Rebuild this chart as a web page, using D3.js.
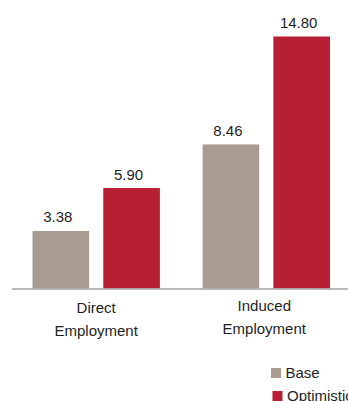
<!DOCTYPE html>
<html>
<head>
<meta charset="utf-8">
<script src="https://cdn.jsdelivr.net/npm/d3@7"></script>
<style>
  body { margin: 0; background: #fff; overflow: hidden; }
  text { font-family: "Liberation Sans", Arial, Helvetica, sans-serif; fill: #1e1e1e; }
</style>
</head>
<body>
<div id="chart"></div>
<script>
// data
var categories = ["Direct Employment", "Induced Employment"];
var catLines = [["Direct", "Employment"], ["Induced", "Employment"]];
var series = ["Base", "Optimistic"];
var baseValues = [3.38, 8.46];
var optimisticValues = [5.90, 14.80];
var colors = ["#a89b91", "#b71f34"];

var width = 348, height = 401;
var baseline = 288.5, plotTop = 36.5;

var svg = d3.select("#chart")
  .append("svg")
    .attr("width", width)
    .attr("height", height);

// group scale, then bar-in-group scale
var x0 = d3.scaleBand()
  .domain(categories)
  .range([32.5, 330])
  .paddingInner(0.251)
  .paddingOuter(0);

var x1 = d3.scaleBand()
  .domain(series)
  .range([0, x0.bandwidth()])
  .paddingInner(0.2);

var y = d3.scaleLinear()
  .domain([0, 14.8])
  .range([baseline, plotTop]);

var rows = categories.map(function(c, i) {
  return {cat: c, values: [baseValues[i], optimisticValues[i]]};
});

var groups = svg.append("g")
  .selectAll("g")
  .data(rows)
  .enter().append("g")
    .attr("transform", function(d) { return "translate(" + x0(d.cat) + ",0)"; });

groups.selectAll("rect")
  .data(function(d) { return d.values.map(function(v, j) { return {key: series[j], value: v, j: j}; }); })
  .enter().append("rect")
    .attr("x", function(d) { return x1(d.key); })
    .attr("y", function(d) { return y(d.value); })
    .attr("width", x1.bandwidth())
    .attr("height", function(d) { return baseline - y(d.value); })
    .attr("fill", function(d) { return colors[d.j]; });

// value labels
groups.selectAll("text.val")
  .data(function(d) { return d.values.map(function(v, j) { return {key: series[j], value: v}; }); })
  .enter().append("text")
    .attr("class", "val")
    .attr("x", function(d) { return x1(d.key) + x1.bandwidth() / 2 - 3; })
    .attr("y", function(d) { return y(d.value) - 8.5; })
    .attr("text-anchor", "middle")
    .style("font-size", "15px")
    .text(function(d) { return d.value.toFixed(2); });

// axis line
svg.append("line")
  .attr("x1", 12).attr("x2", width)
  .attr("y1", 289).attr("y2", 289)
  .attr("stroke", "#a3a3a3")
  .attr("stroke-width", 1.5);

// category labels
groups.each(function(d, i) {
  var g = d3.select(this);
  catLines[i].forEach(function(line, k) {
    g.append("text")
      .attr("x", x0.bandwidth() / 2 + (i === 0 ? 0 : -2))
      .attr("y", (i === 0 ? 313 : 311) + k * 22.5)
      .attr("text-anchor", "middle")
      .style("font-size", "15px")
      .text(line);
  });
});

// legend
var legend = svg.append("g");
var legendPos = [{x: 271, y: 368}, {x: 272.5, y: 391}];
series.forEach(function(s, i) {
  legend.append("rect")
    .attr("x", legendPos[i].x)
    .attr("y", legendPos[i].y)
    .attr("width", 10)
    .attr("height", 10)
    .attr("fill", colors[i]);
  legend.append("text")
    .attr("x", legendPos[i].x + 14.5)
    .attr("y", legendPos[i].y + 10)
    .style("font-size", "15px")
    .text(s);
});
</script>
</body>
</html>
